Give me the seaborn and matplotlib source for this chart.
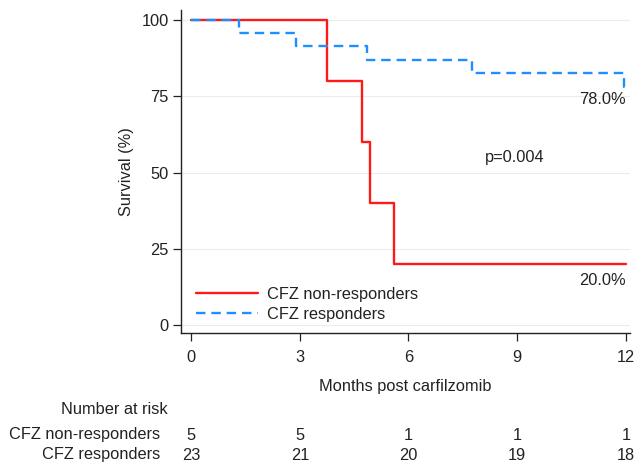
import matplotlib
matplotlib.use("Agg")
import matplotlib.pyplot as plt
import seaborn as sns
import pandas as pd
from matplotlib import font_manager

sns.set_theme(style="white")
fams = [f.name for f in font_manager.fontManager.ttflist]
fam = "Liberation Sans Narrow" if "Liberation Sans Narrow" in fams else "Liberation Sans"
plt.rcParams["font.family"] = [fam, "DejaVu Sans"]
FS = 11.8

# Data
nonresp_time = [0, 3.76, 4.72, 4.93, 5.6, 12.0]
nonresp_surv = [100, 80, 60, 40, 20, 20]
resp_time = [0, 1.33, 2.9, 4.86, 7.76, 11.95, 12.0]
resp_surv = [100, 95.7, 91.3, 87.0, 82.6, 78.0, 78.0]
groups = ["CFZ non-responders", "CFZ responders"]
risk_times = [0, 3, 6, 9, 12]
risk_nonresp = [5, 5, 1, 1, 1]
risk_resp = [23, 21, 20, 19, 18]

df = pd.concat([
    pd.DataFrame({"t": nonresp_time, "s": nonresp_surv, "g": groups[0]}),
    pd.DataFrame({"t": resp_time, "s": resp_surv, "g": groups[1]}),
])

fig = plt.figure(figsize=(6.34, 4.68), dpi=100)
ax = fig.add_axes([0.2855, 0.288, 0.7085, 0.691])
sns.lineplot(data=df, x="t", y="s", hue="g", style="g",
             palette={groups[0]: "#ff1a1a", groups[1]: "#1f8fff"},
             dashes={groups[0]: "", groups[1]: (4, 2.5)},
             drawstyle="steps-post", linewidth=1.7, ax=ax, estimator=None,
             sort=False)

ax.set_xlim(-0.28, 12.12)
ax.set_ylim(-2.6, 103.3)
ax.set_xticks(risk_times)
ax.set_yticks([0, 25, 50, 75, 100])
ax.yaxis.grid(True, color="#e6efef", linewidth=0.8)
ax.set_axisbelow(True)
for s in ["top", "right"]:
    ax.spines[s].set_visible(False)
for s in ["left", "bottom"]:
    ax.spines[s].set_color("#222222")
    ax.spines[s].set_linewidth(1.0)
ax.tick_params(axis="both", direction="out", length=6, width=0.9,
               colors="#222222", labelsize=FS, bottom=True, left=True)
ax.tick_params(axis="x", pad=6)
ax.tick_params(axis="y", pad=3)
ax.set_xlabel("Months post carfilzomib", fontsize=FS, color="#222222", labelpad=10)
ax.set_ylabel("Survival (%)", fontsize=FS, color="#222222", labelpad=5)

ax.text(12, 74, "78.0%", ha="right", va="center", fontsize=FS, color="#222222")
ax.text(12, 14.8, "20.0%", ha="right", va="center", fontsize=FS, color="#222222")
ax.text(8.12, 54.8, "p=0.004", ha="left", va="center", fontsize=FS, color="#222222")

leg = ax.legend(loc="lower left", bbox_to_anchor=(0.012, 0.004), frameon=False,
                fontsize=FS, handlelength=3.75, labelspacing=0.32,
                borderaxespad=0.2, handletextpad=0.55)
for t in leg.get_texts():
    t.set_color("#222222")

# Number at risk table
def fx(xd):
    return ax.transData.transform((xd, 0))[0] / fig.bbox.width

fig.text(168 / 634, 1 - 410 / 468, "Number at risk", ha="right", va="center",
         fontsize=FS, color="#222222")
for row, (label, vals) in enumerate([(groups[0], risk_nonresp), (groups[1], risk_resp)]):
    y = 1 - (435 + row * 20) / 468
    fig.text(160 / 634, y, label, ha="right", va="center", fontsize=FS, color="#222222")
    for tx, v in zip(risk_times, vals):
        fig.text(fx(tx), y, str(v), ha="center", va="center", fontsize=FS, color="#222222")

fig.savefig("out.png", dpi=100)
